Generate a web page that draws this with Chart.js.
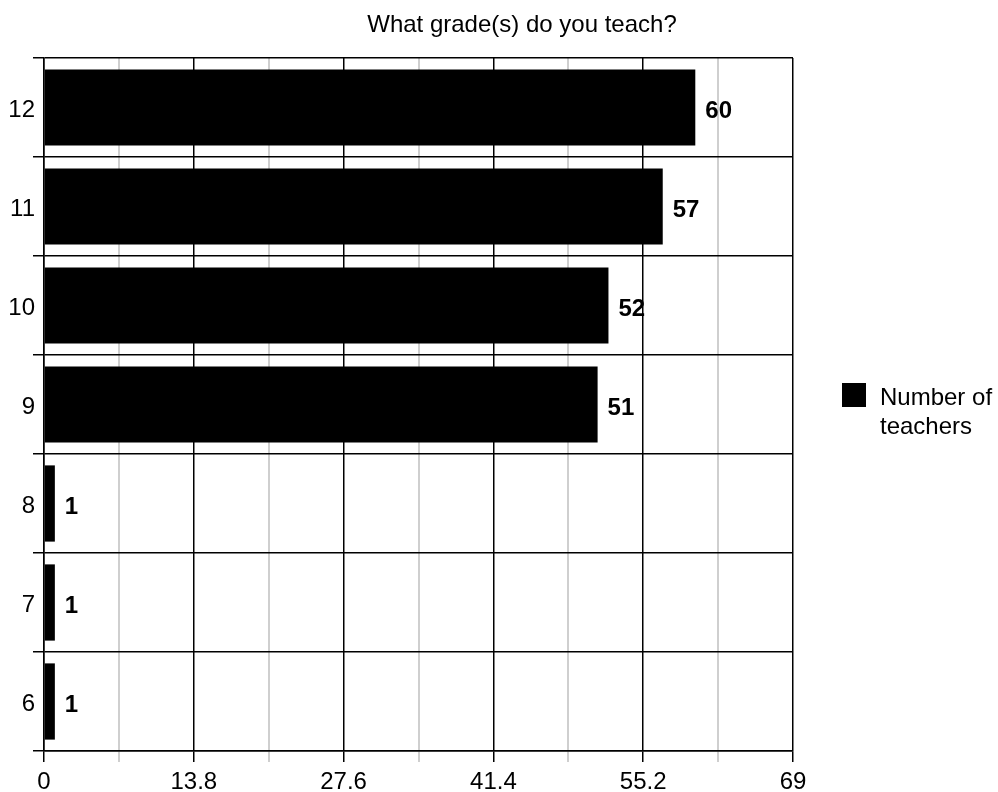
<!DOCTYPE html>
<html>
<head>
<meta charset="utf-8">
<script src="https://cdn.jsdelivr.net/npm/chart.js@4/dist/chart.umd.min.js"></script>
<style>
  html, body { margin: 0; padding: 0; background: #fff; }
  #wrap { width: 998px; height: 792px; }
</style>
</head>
<body>
<div id="wrap"><canvas id="gradeChart"></canvas></div>
<script>
const grades = ["12", "11", "10", "9", "8", "7", "6"];
const teachers = [60, 57, 52, 51, 1, 1, 1];
const xGridValues = [0, 6.9, 13.8, 20.7, 27.6, 34.5, 41.4, 48.3, 55.2, 62.1, 69];
const xTickLabels = ["0", "", "13.8", "", "27.6", "", "41.4", "", "55.2", "", "69"];
const seriesName = "Number of teachers";
const chartTitle = "What grade(s) do you teach?";

const FONT = "'Liberation Sans', Arial, sans-serif";

// value labels, title and the two-line legend are drawn by hand
const extras = {
  id: "extras",
  afterDraw(chart) {
    const ctx = chart.ctx;
    const meta = chart.getDatasetMeta(0);
    ctx.save();
    ctx.fillStyle = "#000";
    ctx.font = "bold 24px " + FONT;
    ctx.textBaseline = "middle";
    ctx.textAlign = "left";
    meta.data.forEach((bar, i) => {
      ctx.fillText(String(teachers[i]), bar.x + 10, bar.y + 4);
    });

    ctx.font = "24px " + FONT;
    ctx.textAlign = "center";
    ctx.textBaseline = "alphabetic";
    ctx.fillText(chartTitle, 522, 32);

    ctx.fillRect(842, 383, 24, 24);
    ctx.textAlign = "left";
    const words = seriesName.split(" ");
    ctx.fillText(words.slice(0, 2).join(" "), 880, 405);
    ctx.fillText(words.slice(2).join(" "), 880, 434);
    ctx.restore();
  }
};

const ctx = document.getElementById("gradeChart").getContext("2d");

new Chart(ctx, {
  type: "bar",
  data: {
    labels: grades,
    datasets: [{
      label: seriesName,
      data: teachers,
      backgroundColor: "#000",
      borderWidth: 0,
      barPercentage: 0.77,
      categoryPercentage: 1,
    }],
  },
  options: {
    indexAxis: "y",
    responsive: true,
    maintainAspectRatio: false,
    animation: false,
    layout: { padding: { top: 58, right: 205, left: 0, bottom: 0 } },
    plugins: {
      legend: { display: false },
      title: { display: false },
      tooltip: { enabled: false },
    },
    scales: {
      x: {
        min: 0,
        max: 69,
        afterBuildTicks: (axis) => {
          axis.ticks = xGridValues.map(v => ({ value: v }));
        },
        afterFit: (axis) => { axis.height = 41; },
        ticks: {
          autoSkip: false,
          maxRotation: 0,
          padding: 6,
          color: "#000",
          font: { family: FONT, size: 24 },
          callback: (v, i) => xTickLabels[i],
        },
        grid: {
          color: (c) => (c.index % 2 === 0 ? "#000" : "#cfcfcf"),
          tickColor: (c) => (c.index % 2 === 0 ? "#000" : "#cfcfcf"),
          lineWidth: (c) => (c.index % 2 === 0 ? 1.5 : 2),
          tickLength: 11,
        },
        border: { color: "#000", width: 1.5 },
      },
      y: {
        afterFit: (axis) => { axis.width = 44; },
        ticks: {
          padding: -2,
          labelOffset: 3,
          color: "#000",
          font: { family: FONT, size: 24 },
        },
        grid: {
          offset: true,
          color: "#000",
          lineWidth: 1.5,
          tickLength: 11,
        },
        border: { color: "#000", width: 1.5 },
      },
    },
  },
  plugins: [extras],
});
</script>
</body>
</html>
